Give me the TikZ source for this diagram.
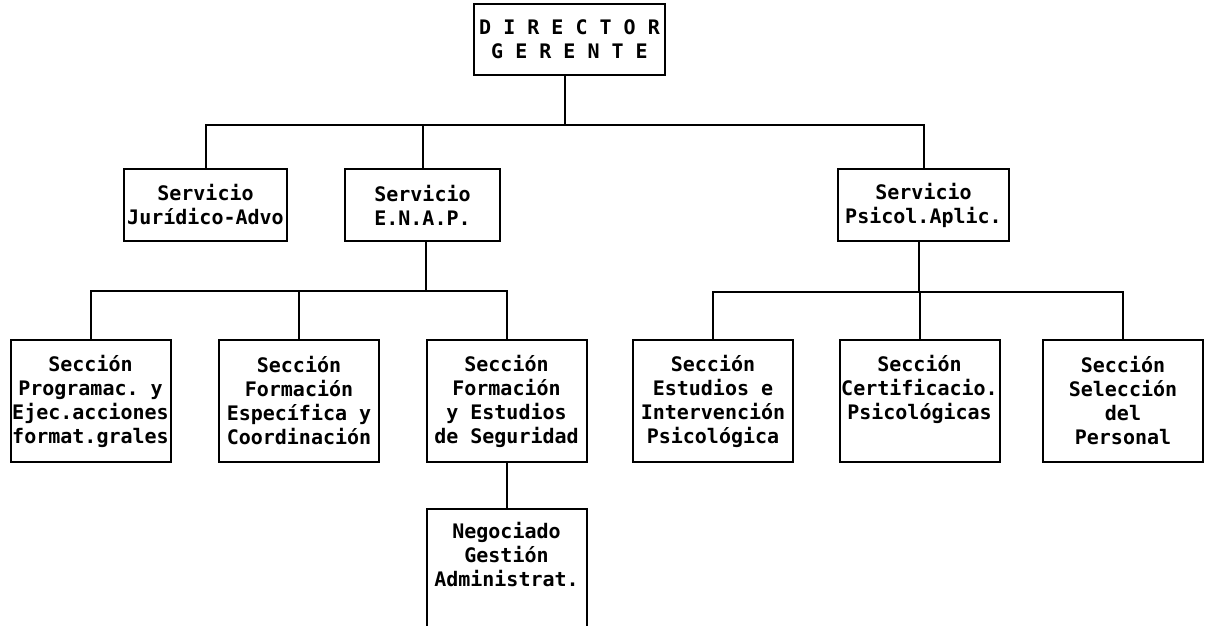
\documentclass[tikz,border=0pt]{standalone}
\usepackage{fontspec}
\setmonofont{DejaVu Sans Mono}
\begin{document}
\begin{tikzpicture}[x=0.5pt, y=-0.5pt, line width=1pt,
    every node/.style={font=\ttfamily\bfseries\fontsize{10}{12}\selectfont},
    caja/.style={draw, align=center, inner sep=0pt, minimum width=80pt, minimum height=36pt},
    seccion/.style={caja, minimum height=61pt}]
    \useasboundingbox (0,0) rectangle (1206,626);
    \clip (0,0) rectangle (1206,626);
    % direccion y servicios
    \node[caja, minimum width=95.5pt, minimum height=35.5pt] (dir) at (569.5,39.5) {D I R E C T O R\\G E R E N T E};
    \node[caja, minimum width=81.5pt] (jur) at (205.5,205) {Servicio\\Jurídico-Advo};
    \node[caja, minimum width=77.5pt] (enap) at (422.5,205) {Servicio\\E.N.A.P.};
    \node[caja, minimum width=85.5pt] (psi) at (923.5,205) {Servicio\\Psicol.Aplic.};
    % secciones
    \node[seccion] (sec1) at (90.5,401) {Sección\\Programac. y\\Ejec.acciones\\format.grales};
    \node[seccion] (sec2) at (299,401) {Sección\\Formación\\Específica y\\Coordinación};
    \node[seccion] (sec3) at (506.5,401) {Sección\\Formación\\y Estudios\\de Seguridad};
    \node[seccion] (secA) at (713,401) {Sección\\Estudios e\\Intervención\\Psicológica};
    \node[seccion] (secB) at (919.5,401) {Sección\\Certificacio.\\Psicológicas\\\phantom{g}};
    \node[seccion] (secC) at (1123,401) {Sección\\Selección\\del\\Personal};
    \node[caja, minimum height=69pt] (neg) at (506.5,578) {Negociado\\Gestión\\Administrat.\\\mbox{}\\\mbox{}};
    % lineas
    \coordinate (b1) at (565,125);
    \coordinate (b2) at (426,291);
    \coordinate (b3) at (919,292);
    \draw (dir.south -| b1) -- (b1);
    \draw (jur.north) |- (b1) -| (psi.north);
    \draw (b1) -| (enap.north);
    \draw (enap.south -| b2) -- (b2);
    \draw (sec1.north) |- (b2) -| (sec3.north);
    \draw (sec2.north) -- (sec2.north |- b2);
    \draw (psi.south -| b3) -- (b3);
    \draw (secA.north) |- (b3) -| (secC.north);
    \draw (secB.north) -- (secB.north |- b3);
    \draw (sec3.south) -- (neg.north);
\end{tikzpicture}
\end{document}
